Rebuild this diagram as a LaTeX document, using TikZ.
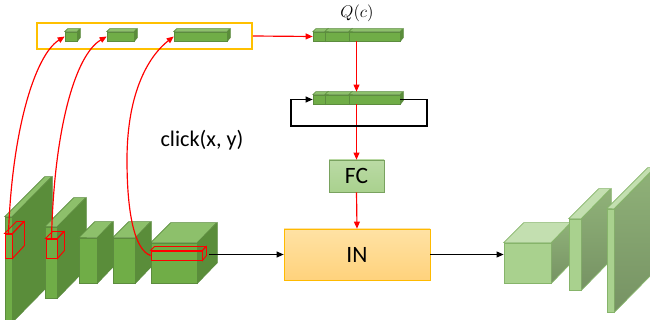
\documentclass[tikz,border=0pt]{standalone}
\usepackage{fontspec}
\newfontfamily\calibri{Carlito}
\usetikzlibrary{arrows.meta,positioning}

\definecolor{encfront}{HTML}{70AD47}
\definecolor{enctop}{HTML}{8DC06B}
\definecolor{encside}{HTML}{5A8D3A}
\definecolor{encline}{HTML}{5C8C3E}
\definecolor{decfront}{HTML}{A9D18E}
\definecolor{dectop}{HTML}{C3DFB0}
\definecolor{decline}{HTML}{86B46A}
\definecolor{ctxline}{HTML}{FFC000}
\definecolor{intop}{HTML}{FFE2A4}
\definecolor{inbot}{HTML}{FFD27C}

% front face is a node, top and side faces hang off its anchors
\newcommand{\cuboid}[7]{%
  \node[#2 front, minimum width=#5*0.03cm, minimum height=#6*0.03cm] (#1) at (#3+#5/2,#4+#6/2) {};
  \path[#2 top] (#1.north west) -- ++(#7,-#7) -- ++(#5,0) -- (#1.north east) -- cycle;
  \path[#2 side] (#1.north east) -- ++(#7,-#7) -- ++(0,#6) -- (#1.south east) -- cycle;
  \path (#1.north) ++(#7,-#7) coordinate (#1-back);
}

\tikzset{
  enc front/.style={draw=encline, fill=encfront, line width=0.6pt, inner sep=0pt},
  enc top/.style={draw=encline, fill=enctop, line width=0.6pt},
  enc side/.style={draw=encline, fill=encside, line width=0.6pt},
  dec front/.style={draw=decline, fill=decfront, line width=0.6pt, inner sep=0pt},
  dec top/.style={draw=decline, fill=dectop, line width=0.6pt},
  dec side/.style={draw=decline, top color=decfront!85!black, bottom color=decfront!70!black, line width=0.6pt},
  bar front/.style={draw=encline, fill=encfront, line width=0.5pt, inner sep=0pt},
  bar top/.style={draw=encline, fill=enctop, line width=0.5pt},
  bar side/.style={draw=encline, fill=encside, line width=0.5pt},
  hl front/.style={draw=red, line width=0.8pt, inner sep=0pt},
  hl top/.style={draw=red, line width=0.8pt},
  hl side/.style={draw=red, line width=0.8pt},
  ctx/.style={draw=ctxline, fill=white, line width=1.6pt, inner sep=0pt},
  fcbox/.style={draw=decline!90!black, top color=decfront!80!white, bottom color=decfront, line width=0.5pt,
    font=\calibri\fontsize{20}{22}\selectfont},
  inbox/.style={draw=ctxline!90!orange, top color=intop, bottom color=inbot, line width=0.5pt,
    font=\calibri\fontsize{20}{22}\selectfont},
  lbl/.style={font=\calibri\fontsize{19}{22}\selectfont, inner sep=0pt},
  redarr/.style={draw=red, line width=1pt, -{Triangle[length=6pt,width=5pt]}},
  blkarr/.style={draw=black, line width=1.1pt, -{Triangle[length=6pt,width=5pt]}},
}

\begin{document}
\begin{tikzpicture}[x=0.03cm, y=-0.03cm]
\useasboundingbox (0,0) rectangle (650,320);
\clip (0,0) rectangle (650,320);

% encoder
\cuboid{e1}{enc}{5}{217}{7}{105}{40}
\cuboid{e2}{enc}{45}{227}{12}{71}{29}
\cuboid{e3}{enc}{79}{238}{18}{45}{16}
\cuboid{e4}{enc}{113}{238}{22}{45}{16}
\cuboid{e5}{enc}{151}{243}{46}{40}{20}

% clicked regions
\cuboid{r1}{hl}{5}{234}{7}{24}{12}
\cuboid{r2}{hl}{46}{239}{11}{19}{7}
\cuboid{r5}{hl}{151}{251}{51}{9}{4}

% decoder
\cuboid{d1}{dec}{504}{243}{47}{40}{20}
\cuboid{d2}{dec}{569}{219}{12}{71}{30}
\cuboid{d3}{dec}{607}{209}{7}{103}{41}

% click features
\node[ctx, minimum width=215*0.03cm, minimum height=26*0.03cm] (ctx) at (144.5,36) {};
\cuboid{b1}{bar}{65}{32}{12}{9}{3}
\cuboid{b2}{bar}{107}{32}{27}{9}{3}
\cuboid{b3}{bar}{174}{32}{53}{9}{3}

% Q(c) and its recurrent copy
\cuboid{q1}{bar}{313}{32}{12}{9}{3}
\cuboid{q2}{bar}{325}{32}{24}{9}{3}
\cuboid{q3}{bar}{349}{32}{51}{9}{3}
\cuboid{m1}{bar}{313}{95}{12}{9}{3}
\cuboid{m2}{bar}{325}{95}{24}{9}{3}
\cuboid{m3}{bar}{349}{95}{51}{9}{3}
\node (qlabel) at (357,13) {\fontsize{15}{17}\selectfont $Q(c)$};

\node[fcbox, minimum width=55*0.03cm, minimum height=32*0.03cm] (fc) at (356.5,176) {FC};
\node[inbox, minimum width=146*0.03cm, minimum height=51*0.03cm] (in) at (357,254.5) {IN};
\node[lbl] (click) at (202,140) {click(x, y)};

\coordinate (loopR) at (427,126);
\coordinate (loopL) at (291,126);

% connectors
\draw[redarr] (ctx.east) -- (q1.west);
\draw[redarr] (fc.north |- q3.south) -- (fc.north |- m3-back);
\draw[redarr] (fc.north |- m3.south) -- (fc.north);
\draw[redarr] (fc.south) -- (in.north);
\draw[blkarr] (m3.east) -| (loopR) -- (loopL) |- (m1.west);
\draw[blkarr] (e5.east |- in.west) ++(12,0) -- (in.west);
\draw[blkarr] (in.east) -- (in.east -| d1.west);

\draw[redarr] (r1.north) .. controls (12,130) and (35,55) .. (b1.west);
\draw[redarr] (r2.north) .. controls (54,130) and (75,55) .. (b2.west);
\draw[redarr] (r5.west) .. controls (135,250) and (127,215) .. (127,160)
  .. controls (127,90) and (150,55) .. (b3.west);

\end{tikzpicture}
\end{document}
